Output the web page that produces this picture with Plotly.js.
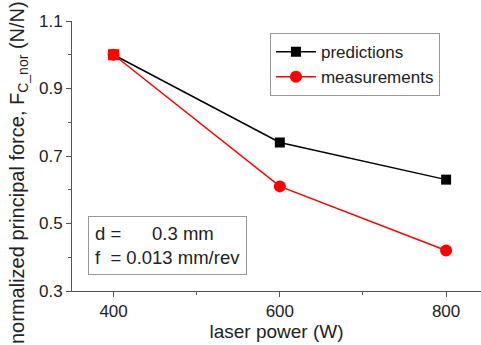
<!DOCTYPE html>
<html><head><meta charset="utf-8">
<script src="https://cdn.plot.ly/plotly-3.0.1.min.js"></script>
<style>body{margin:0;background:#fff}#c{width:481px;height:345px}</style>
</head><body><div id="c"></div>
<script>
const laserPower = [400, 600, 800];
const predictions = [1.0, 0.74, 0.63];
const measurements = [1.0, 0.61, 0.42];
const seriesNames = ['predictions', 'measurements'];
const yTicks = [0.3, 0.5, 0.7, 0.9, 1.1];
const xTicks = [400, 600, 800];
const yTitle = 'normalized principal force, F<sub>C_nor</sub> (N/N)';
const xTitle = 'laser power (W)';
const noteText = 'd =\u00a0\u00a0\u00a0\u00a0\u00a0\u00a00.3 mm<br>f\u00a0 = 0.013 mm/rev';

const font = 'Liberation Sans, Arial, sans-serif';
const traces = [
  {x: laserPower, y: predictions, name: seriesNames[0], mode: 'lines+markers',
   line: {color: '#000', width: 1.5}, marker: {symbol: 'square', size: 10, color: '#000', opacity: 1, line: {width: 0}}},
  {x: laserPower, y: measurements, name: seriesNames[1], mode: 'lines+markers',
   line: {color: '#ff0000', width: 1.5}, marker: {symbol: 'circle', size: 12, color: '#ff0000', opacity: 1, line: {width: 0}}},
  {x: laserPower.slice(0, 1), y: measurements.slice(0, 1), mode: 'markers', showlegend: false, hoverinfo: 'skip',
   marker: {symbol: 'square', size: 11, color: '#ff0000', line: {width: 0}}}
];
const layout = {
  width: 481, height: 345,
  margin: {l: 72, r: 0, t: 21, b: 54},
  paper_bgcolor: '#fff', plot_bgcolor: '#fff',
  font: {family: font, size: 17, color: '#222'},
  showlegend: true,
  legend: {x: 0.484, y: 0.955, xanchor: 'left', yanchor: 'top', bordercolor: '#999', borderwidth: 1,
           bgcolor: '#fff', font: {family: font, size: 17, color: '#222'}, tracegroupgap: 0, itemwidth: 40},
  xaxis: {range: [350, 842], tickvals: xTicks, ticks: 'outside', ticklen: 5, tickcolor: '#555',
          showline: true, linecolor: '#555', linewidth: 1, showgrid: false, zeroline: false,
          tickfont: {family: font, size: 17, color: '#222'},
          minor: {tickvals: [500, 700], ticks: 'outside', ticklen: 3, tickcolor: '#555'},
          title: {text: xTitle, font: {family: font, size: 19, color: '#222'}, standoff: 1}},
  yaxis: {range: [0.3, 1.1], tickvals: yTicks, ticktext: yTicks.map(v => v.toFixed(1)), ticks: 'outside', ticklen: 5, tickcolor: '#555',
          showline: true, linecolor: '#555', linewidth: 1, showgrid: false, zeroline: false,
          tickfont: {family: font, size: 17, color: '#222'},
          minor: {tickvals: [0.4, 0.6, 0.8, 1.0], ticks: 'outside', ticklen: 3, tickcolor: '#555'}},
  annotations: [
    {xref: 'paper', yref: 'paper', x: (19-72)/409, y: (291-173)/270, xanchor: 'center', yanchor: 'middle',
     text: yTitle, textangle: -90, showarrow: false, font: {family: font, size: 20, color: '#222'}},
    {xref: 'paper', yref: 'paper', x: (88-72)/409, y: (291-216)/270, xanchor: 'left', yanchor: 'top',
     text: noteText, align: 'left', showarrow: false,
     font: {family: font, size: 18.5, color: '#222'}, bordercolor: '#999', borderwidth: 1, borderpad: 6, bgcolor: '#fff'}
  ]
};
Plotly.newPlot('c', traces, layout, {displayModeBar: false});
</script></body></html>
